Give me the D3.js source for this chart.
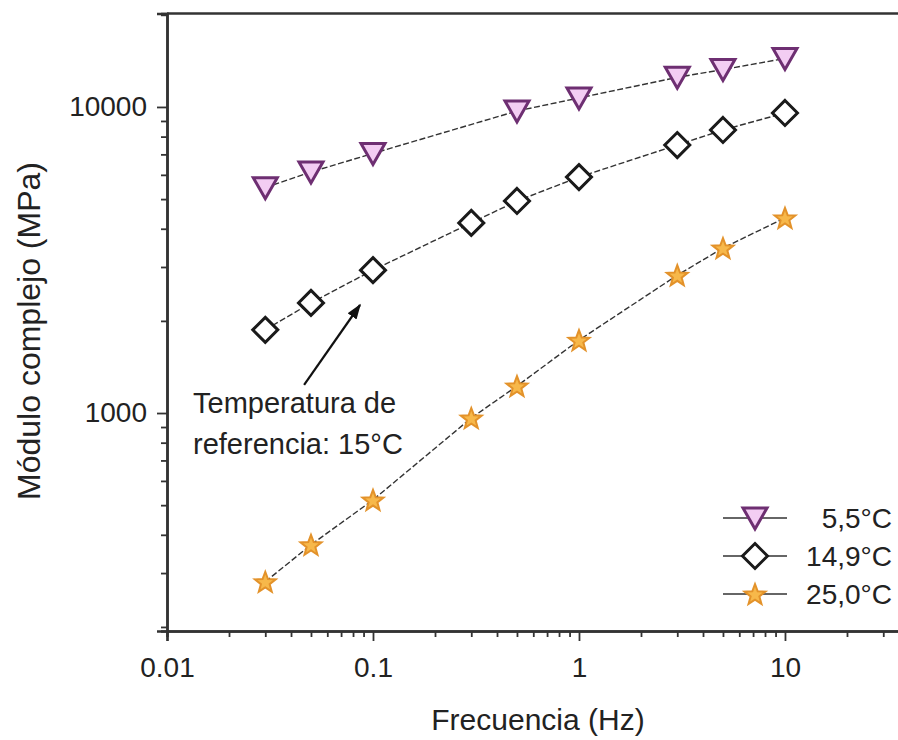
<!DOCTYPE html>
<html>
<head>
<meta charset="utf-8">
<script src="https://cdn.jsdelivr.net/npm/d3@7"></script>
<style>
  body { margin: 0; background: #fff; }
  svg { display: block; }
  text { font-family: "Liberation Sans", Arial, sans-serif; fill: #222; }
</style>
</head>
<body>
<svg id="chart" width="898" height="740"></svg>
<script>
// frequencies (Hz)
var freqs = [0.03, 0.05, 0.1, 0.3, 0.5, 1, 3, 5, 10];
var freqs55 = [0.03, 0.05, 0.1, 0.5, 1, 3, 5, 10];

// modulo complejo (MPa)
var mod55 = [5450, 6130, 7050, 9700, 10700, 12500, 13250, 14400];
var mod149 = [1870, 2290, 2930, 4180, 4930, 5900, 7510, 8410, 9560];
var mod250 = [281, 371, 520, 963, 1225, 1730, 2820, 3460, 4340];

var seriesNames = ["5,5°C", "14,9°C", "25,0°C"];
var xTickValues = [0.01, 0.1, 1, 10];
var xTickLabels = ["0.01", "0.1", "1", "10"];
var yTickValues = [1000, 10000];
var yTickLabels = ["1000", "10000"];

var series = [
  {name: seriesNames[0], x: freqs55, y: mod55, shape: "tri", fill: "#f3cdf3", stroke: "#6e2f72"},
  {name: seriesNames[1], x: freqs, y: mod149, shape: "diamond", fill: "#ffffff", stroke: "#1a1a1a"},
  {name: seriesNames[2], x: freqs, y: mod250, shape: "star", fill: "#f7b84a", stroke: "#e3922a"}
];

const margin = {top: 13.5, left: 167, bottom: 109};
var svg = d3.select("#chart");

var x = d3.scaleLog().domain([0.01, 40]).range([margin.left, 909]);
var y = d3.scaleLog().domain([194, 20200]).range([740 - margin.bottom, margin.top]);

// symbol paths centred on 0,0
function shapePath(shape) {
  if (shape == "tri") return "M-12,-10L12,-10L0,11Z";
  if (shape == "diamond") return "M0,-12.5L12.5,0L0,12.5L-12.5,0Z";
  var p = [];
  for (var i = 0; i < 10; i++) {
    var r = i % 2 ? 4.6 : 11;
    var a = -Math.PI / 2 + i * Math.PI / 5;
    p.push([r * Math.cos(a), r * Math.sin(a) + 1]);
  }
  return "M" + p.map(d => d.join(",")).join("L") + "Z";
}

// minor ticks
var xMinor = [], yMinor = [];
[0.01, 0.1, 1, 10].forEach(function(d) {
  for (var k = 2; k <= 9; k++) if (d * k < 40) xMinor.push(d * k);
});
[100, 1000, 10000].forEach(function(d) {
  for (var k = 2; k <= 9; k++) if (d * k > 194 && d * k < 20200) yMinor.push(d * k);
});

var axisColor = "#333";

var gx = svg.append("g").attr("transform", "translate(0," + y.range()[0] + ")");
gx.call(d3.axisBottom(x).tickValues(xTickValues).tickFormat((d, i) => xTickLabels[i]).tickSize(10).tickPadding(16));
gx.append("g").call(d3.axisBottom(x).tickValues(xMinor).tickFormat("").tickSize(6));

var gy = svg.append("g").attr("transform", "translate(" + x.range()[0] + ",0)");
gy.call(d3.axisLeft(y).tickValues(yTickValues).tickFormat((d, i) => yTickLabels[i]).tickSize(10).tickPadding(10));
gy.append("g").call(d3.axisLeft(y).tickValues(yMinor).tickFormat("").tickSize(6));

svg.selectAll(".domain").attr("stroke", axisColor).attr("stroke-width", 2.5);
svg.selectAll(".tick line").attr("stroke", axisColor).attr("stroke-width", 1.8);
svg.selectAll(".tick text").style("font-size", "28px").attr("fill", "#222");

// top frame line
svg.append("line")
  .attr("x1", x.range()[0]).attr("x2", 898)
  .attr("y1", y.range()[1]).attr("y2", y.range()[1])
  .attr("stroke", axisColor).attr("stroke-width", 2.5);

// axis titles
svg.append("text")
  .attr("x", 538).attr("y", 730)
  .attr("text-anchor", "middle")
  .style("font-size", "30px")
  .text("Frecuencia (Hz)");

svg.append("text")
  .attr("transform", "translate(40,331) rotate(-90)")
  .attr("text-anchor", "middle")
  .style("font-size", "32px")
  .text("Módulo complejo (MPa)");

// series lines
var line = d3.line().x(d => x(d[0])).y(d => y(d[1]));
series.forEach(function(s) {
  var pts = s.x.map((f, i) => [f, s.y[i]]);
  svg.append("path")
    .attr("d", line(pts))
    .attr("fill", "none")
    .attr("stroke", "#333")
    .attr("stroke-width", 1.4)
    .attr("stroke-dasharray", "6,2.5");
  svg.append("g").selectAll("path")
    .data(pts)
    .enter()
    .append("path")
    .attr("d", shapePath(s.shape))
    .attr("transform", d => "translate(" + x(d[0]) + "," + y(d[1]) + ")")
    .attr("fill", s.fill)
    .attr("stroke", s.stroke)
    .attr("stroke-width", s.shape == "star" ? 2 : 3)
    .attr("stroke-linejoin", "miter");
});

// annotation
svg.append("defs").append("marker")
  .attr("id", "arrow")
  .attr("viewBox", "0 0 10 10")
  .attr("refX", 9).attr("refY", 5)
  .attr("markerWidth", 7).attr("markerHeight", 7)
  .attr("orient", "auto")
  .append("path").attr("d", "M0,1.5L10,5L0,8.5Z").attr("fill", "#111");

svg.append("line")
  .attr("x1", x(0.0463)).attr("y1", y(1235))
  .attr("x2", x(0.0865)).attr("y2", y(2254))
  .attr("stroke", "#111").attr("stroke-width", 2.2)
  .attr("marker-end", "url(#arrow)");

var note = svg.append("text").style("font-size", "29px");
note.append("tspan").attr("x", 193).attr("y", 413).text("Temperatura de");
note.append("tspan").attr("x", 193).attr("y", 454).text("referencia: 15°C");

// legend
var legend = svg.append("g");
series.forEach(function(s, i) {
  var ly = 518 + i * 38;
  legend.append("line")
    .attr("x1", 723).attr("x2", 787).attr("y1", ly).attr("y2", ly)
    .attr("stroke", "#333").attr("stroke-width", 1.6);
  legend.append("path")
    .attr("d", shapePath(s.shape))
    .attr("transform", "translate(755," + ly + ")")
    .attr("fill", s.fill).attr("stroke", s.stroke)
    .attr("stroke-width", s.shape == "star" ? 2 : 3);
  legend.append("text")
    .attr("x", 892).attr("y", ly + 10)
    .attr("text-anchor", "end")
    .style("font-size", "28px")
    .text(s.name);
});
</script>
</body>
</html>
